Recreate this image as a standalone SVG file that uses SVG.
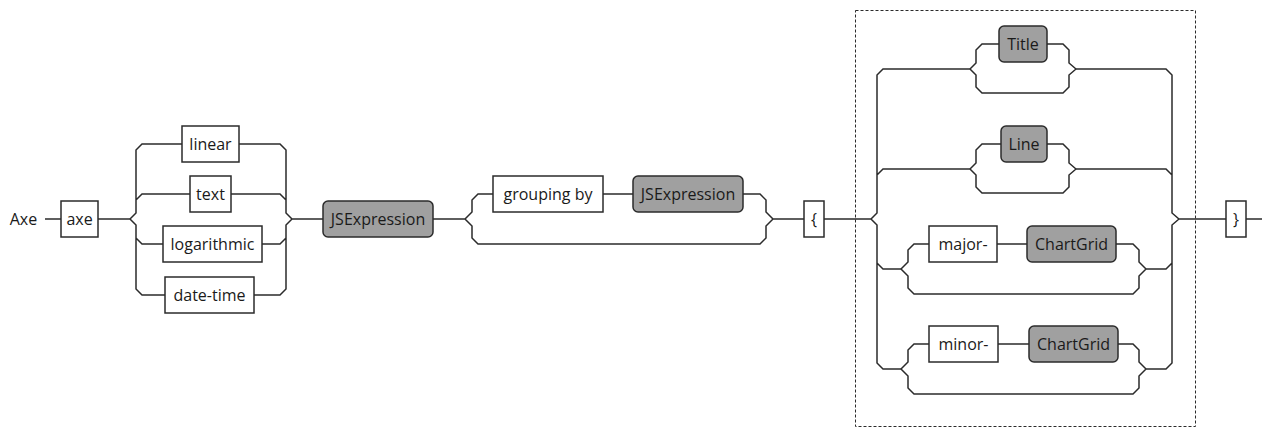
<svg xmlns="http://www.w3.org/2000/svg" width="1274" height="429" viewBox="0 0 1274 429">
<style>
.w{fill:#ffffff;stroke:#2b2b2b;stroke-width:1.5}
.g{fill:#a0a0a0;stroke:#2b2b2b;stroke-width:1.5}
.t{font-family:"Open Sans","Noto Sans","DejaVu Sans",sans-serif;font-size:16px;fill:#1a1a1a;text-anchor:middle}
.c{fill:none;stroke:#2b2b2b;stroke-width:1.5;stroke-linejoin:miter}
.d{fill:none;stroke:#2b2b2b;stroke-width:1;stroke-dasharray:3 2}
</style>
<rect width="1274" height="429" fill="#ffffff"/>
<g id="frame"><rect class="d" x="855.5" y="10.5" width="340" height="416"/></g>
<g id="connectors">
<path class="c" d="M45,219 H61 M98,219 H130"/>
<path class="c" d="M130,219 L136,213 V150 L142,144 H182 M130,219 L136,225 V289 L142,295 H165 M136,200 L142,194 H190 M136,238 L142,244 H163"/>
<path class="c" d="M239,144 H280 L286,150 V213 L292,219 H323 M254,295 H280 L286,289 V225 L292,219 M231,194 H280 L286,200 M262,244 H280 L286,238"/>
<path class="c" d="M433,219 H465 L472,212 V200 L478,194 H493 M465,219 L472,226 V238 L478,244 H760 L766,238 V226 L773,219 M603,194 H633 M743,194 H760 L766,200 V212 L773,219 H804"/>
<path class="c" d="M824,219 H871 L877,213 V75 L883,69 H970 M871,219 L877,225 V363 L883,369 H901 M877,175 L883,169 H970 M877,263 L883,269 H901"/>
<path class="c" d="M1076,69 H1166 L1172,75 V213 L1179,219 H1226 M1146,369 H1166 L1172,363 V225 L1179,219 M1076,169 H1166 L1172,175 M1146,269 H1166 L1172,263 M1246,219 H1262"/>
<path class="c" d="M970,69 L976,63 V50 L982,44 H999 M970,69 L976,75 V87 L982,93 H1063 L1069,87 V75 L1076,69 M1047,44 H1063 L1069,50 V63 L1076,69"/>
<path class="c" d="M970,169 L976,163 V150 L982,144 H1001 M970,169 L976,175 V187 L982,193 H1063 L1069,187 V175 L1076,169 M1047,144 H1063 L1069,150 V163 L1076,169"/>
<path class="c" d="M901,269 L908,262 V250 L914,244 H929 M901,269 L908,276 V288 L914,294 H1133 L1139,288 V276 L1146,269 M997,244 H1027 M1116,244 H1133 L1139,250 V262 L1146,269"/>
<path class="c" d="M901,369 L908,362 V350 L914,344 H929 M901,369 L908,376 V388 L914,394 H1133 L1139,388 V376 L1146,369 M998,344 H1029 M1118,344 H1133 L1139,350 V362 L1146,369"/>
</g>
<g id="start"><text class="t" x="23.5" y="224.5">Axe</text></g>
<g id="axe"><rect class="w" x="61" y="201" width="37" height="36"/><text class="t" x="79.5" y="224.5">axe</text></g>
<g id="linear"><rect class="w" x="182" y="126" width="57" height="36"/><text class="t" x="210.5" y="149.5">linear</text></g>
<g id="text"><rect class="w" x="190" y="176" width="41" height="36"/><text class="t" x="210.5" y="199.5">text</text></g>
<g id="logarithmic"><rect class="w" x="163" y="226" width="99" height="36"/><text class="t" x="212.5" y="249.5">logarithmic</text></g>
<g id="datetime"><rect class="w" x="165" y="277" width="89" height="36"/><text class="t" x="209.5" y="300.5">date-time</text></g>
<g id="jsexpr1"><rect class="g" x="323" y="201" width="110" height="36" rx="5"/><text class="t" x="378" y="224.5">JSExpression</text></g>
<g id="groupingby"><rect class="w" x="493" y="176" width="110" height="36"/><text class="t" x="548" y="199.5">grouping by</text></g>
<g id="jsexpr2"><rect class="g" x="633" y="176" width="110" height="36" rx="5"/><text class="t" x="688" y="199.5">JSExpression</text></g>
<g id="lbrace"><rect class="w" x="804" y="201" width="20" height="36"/><text class="t" x="814" y="224.5">{</text></g>
<g id="title"><rect class="g" x="999" y="26" width="48" height="36" rx="5"/><text class="t" x="1023" y="49.5">Title</text></g>
<g id="line"><rect class="g" x="1001" y="126" width="46" height="36" rx="5"/><text class="t" x="1024" y="149.5">Line</text></g>
<g id="major"><rect class="w" x="929" y="226" width="68" height="36"/><text class="t" x="963" y="249.5">major-</text></g>
<g id="chartgrid1"><rect class="g" x="1027" y="226" width="89" height="36" rx="5"/><text class="t" x="1071.5" y="249.5">ChartGrid</text></g>
<g id="minor"><rect class="w" x="929" y="326" width="69" height="36"/><text class="t" x="963.5" y="349.5">minor-</text></g>
<g id="chartgrid2"><rect class="g" x="1029" y="326" width="89" height="36" rx="5"/><text class="t" x="1073.5" y="349.5">ChartGrid</text></g>
<g id="rbrace"><rect class="w" x="1226" y="201" width="20" height="36"/><text class="t" x="1236" y="224.5">}</text></g>
</svg>
